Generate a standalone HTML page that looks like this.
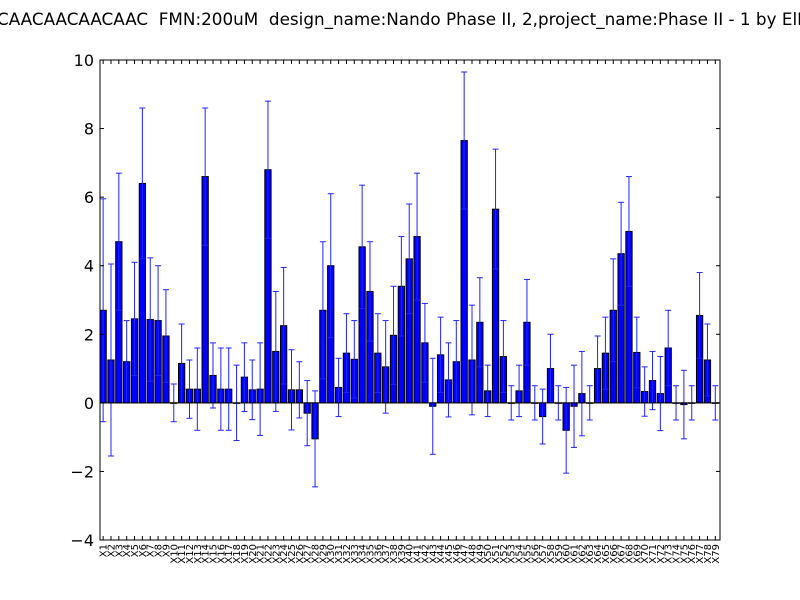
<!DOCTYPE html>
<html><head><meta charset="utf-8"><style>
html,body{margin:0;padding:0;background:#fff;}
svg{display:block;font-family:"DejaVu Sans","Liberation Sans",sans-serif;}
</style></head><body>
<svg id="chart" width="800" height="600" viewBox="0 0 800 600" xmlns="http://www.w3.org/2000/svg">
<rect width="800" height="600" fill="#fff"/>
<text x="-3" y="25" text-anchor="start" font-size="16.8" fill="#000" style="white-space:pre" xml:space="preserve">CAACAACAACAAC  FMN:200uM  design_name:Nando Phase II, 2,project_name:Phase II - 1 by ElMo</text>
<g id="marks"></g>
<g id="axes"></g>
</svg>
<script>
const values = [2.7,1.25,4.7,1.2,2.45,6.4,2.43,2.4,1.95,0,1.15,0.4,0.4,6.6,0.8,0.4,0.4,0,0.75,0.38,0.4,6.8,1.5,2.25,0.38,0.38,-0.3,-1.05,2.7,4.0,0.45,1.45,1.27,4.55,3.25,1.45,1.05,1.97,3.4,4.2,4.85,1.75,-0.1,1.4,0.67,1.2,7.65,1.25,2.35,0.35,5.65,1.35,0,0.35,2.35,0,-0.4,1.0,0,-0.8,-0.1,0.27,0,1.0,1.45,2.7,4.35,5.0,1.47,0.33,0.65,0.27,1.6,0,-0.05,0,2.55,1.25,0];
const errors = [3.25,2.8,2.0,1.2,1.65,2.2,1.8,1.6,1.35,0.55,1.15,0.85,1.2,2.0,0.95,1.2,1.2,1.1,1.0,0.87,1.35,2.0,1.75,1.7,1.17,0.82,0.95,1.4,2.0,2.1,0.85,1.15,1.13,1.8,1.45,1.15,1.35,1.43,1.45,1.6,1.85,1.15,1.4,1.1,1.08,1.2,2.0,1.6,1.3,0.75,1.75,1.05,0.5,0.75,1.25,0.5,0.8,1.0,0.5,1.25,1.2,1.23,0.5,0.95,1.05,1.5,1.5,1.6,1.03,0.72,0.85,1.08,1.1,0.5,1.0,0.5,1.25,1.05,0.5];
const categories = values.map((_, i) => 'X' + (i + 1));
const yTicks = [10,8,6,4,2,0,-2,-4];

const NS = 'http://www.w3.org/2000/svg';
const L = 100, R = 720, T = 60, B = 540, yMin = -4, yMax = 10;
const n = categories.length;
const xs = i => L + (R - L) * i / n;
const ys = v => B - (v - yMin) / (yMax - yMin) * (B - T);
function mk(tag, attrs, parent) {
  const e = document.createElementNS(NS, tag);
  for (const k in attrs) e.setAttribute(k, attrs[k]);
  parent.appendChild(e);
  return e;
}
const marks = document.getElementById('marks');
const axes = document.getElementById('axes');
const bw = (R - L) / n * 0.8;
values.forEach((v, i) => {
  const x = xs(i);
  const y0 = ys(0), y1 = ys(v);
  const r = mk('rect', {x: x, y: Math.min(y0, y1), width: bw, height: Math.max(Math.abs(y1 - y0), 0.5), fill: '#0000ff', stroke: '#000', 'stroke-width': 1}, marks);
  
  
  const cx = x + bw / 2, yt = ys(v + errors[i]), yb = ys(v - errors[i]);
  const g = mk('g', {stroke: '#2222ff', 'stroke-width': 1}, marks);
  
  
  mk('line', {x1: cx, y1: yt, x2: cx, y2: yb}, g);
  mk('line', {x1: cx - 3, y1: yt, x2: cx + 3, y2: yt}, g);
  mk('line', {x1: cx - 3, y1: yb, x2: cx + 3, y2: yb}, g);
});
mk('line', {x1: L, y1: ys(0), x2: R, y2: ys(0), stroke: '#000', 'stroke-width': 1}, axes);
const frame = mk('rect', {x: L, y: T, width: R - L, height: B - T, fill: 'none', stroke: '#000', 'stroke-width': 1}, axes);


yTicks.forEach(t => {
  const y = ys(t);
  mk('line', {x1: L, y1: y, x2: L + 4, y2: y, stroke: '#000'}, axes);
  mk('line', {x1: R, y1: y, x2: R - 4, y2: y, stroke: '#000'}, axes);
  const tx = mk('text', {x: L - 6, y: y + 6, 'text-anchor': 'end', 'font-size': 16, fill: '#000'}, axes);
  tx.textContent = t < 0 ? '\u2212' + Math.abs(t) : String(t);
  
  
});
categories.forEach((c, i) => {
  const cx = xs(i) + bw / 2;
  mk('line', {x1: cx, y1: B, x2: cx, y2: B - 4, stroke: '#000'}, axes);
  mk('line', {x1: cx, y1: T, x2: cx, y2: T + 4, stroke: '#000'}, axes);
  const tx = mk('text', {x: 0, y: 0, 'text-anchor': 'end', 'font-size': 10, fill: '#000', transform: 'translate(' + (cx + 3.5) + ',' + (B + 4) + ') rotate(-90)'}, axes);
  tx.textContent = c;
  
  
});
</script>
</body></html>
